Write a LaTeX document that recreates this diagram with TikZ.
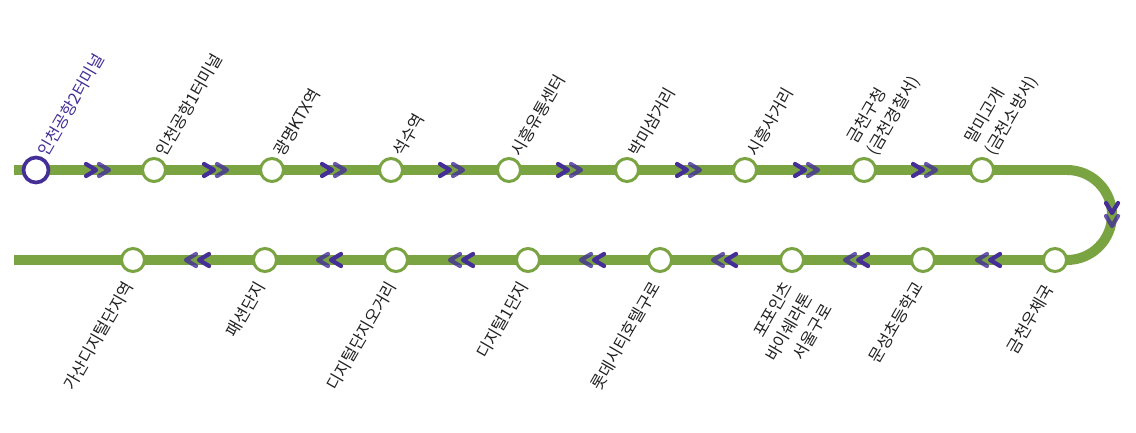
\documentclass[tikz,border=0pt]{standalone}
\usepackage{fontspec}
\setmainfont{Noto Sans CJK KR}
\usetikzlibrary{backgrounds}

\definecolor{linegreen}{HTML}{7AA342}
\definecolor{arrowpurple}{HTML}{452F97}
\definecolor{labelgray}{HTML}{222222}

\tikzset{
trackline/.style={draw=linegreen,line width=7.1pt},
stopnode/.style={circle,draw=linegreen,fill=white,line width=2.1pt,minimum size=0.575cm,inner sep=0,outer sep=0},
firstnode/.style={stopnode,draw=arrowpurple,line width=2.6pt,minimum size=0.625cm},
toplabel/.style={anchor=west,rotate=60,inner sep=0,align=left,font=\fontsize{11.7}{16.2}\selectfont,text=labelgray},
bottomlabel/.style={anchor=east,rotate=60,inner sep=0,align=right,font=\fontsize{11.7}{16.2}\selectfont,text=labelgray},
chevron/.style={draw=arrowpurple,line width=3pt,line join=round,line cap=round},
chevrons/.pic={
\draw[chevron] (2,-6) -- (12,0) -- (2,6);
\draw[chevron,opacity=0.8] (15,-6) -- (25,0) -- (15,6);
}
}

\begin{document}
\begin{tikzpicture}[x=0.025cm,y=-0.025cm]

\useasboundingbox (0,0) rectangle (1136,433);

% Upper stops
\node[firstnode] (u1) at (36,170) {};
\foreach \n/\x in {2/154,3/272,4/391,5/509,6/627,7/745,8/864,9/982}
{
\node[stopnode] (u\n) at (\x,170) {};
}

% Lower stops
\foreach \n/\x in {1/133,2/265,3/396,4/528,5/660,6/792,7/923,8/1055}
{
\node[stopnode] (d\n) at (\x,260) {};
}

\coordinate (linestart) at (14,170);
\coordinate (lineend) at (14,260);
\coordinate (bendtop) at (1067,170);
\coordinate (bendbottom) at (1067,260);

% Track
\begin{scope}[on background layer]
\draw[trackline] (linestart) -- (u1);
\foreach \a/\b in {1/2,2/3,3/4,4/5,5/6,6/7,7/8,8/9}
{
\draw[trackline] (u\a) -- (u\b);
}
\draw[trackline] (u9) -- (bendtop) arc (90:-90:0.025cm*45) -- (d8);
\foreach \a/\b in {8/7,7/6,6/5,5/4,4/3,3/2,2/1}
{
\draw[trackline] (d\a) -- (d\b);
}
\draw[trackline] (d1) -- (lineend);
\end{scope}

% Direction marks
\foreach \x in {84,202,320,438,556,675,793,911}
{
\pic at (\x,170) {chevrons};
}
\pic[rotate=-90] at (1112,201) {chevrons};
\foreach \x in {1002,870,738,606,475,343,211}
{
\pic[rotate=180] at (\x,260) {chevrons};
}

% Upper labels
\node[toplabel,text=arrowpurple] (t1) at (42,155) {인천공항2터미널};
\foreach \n/\x/\txt in {
2/160/인천공항1터미널,
3/278/광명KTX역,
4/397/석수역,
5/515/시흥유통센터,
6/633/박미삼거리,
7/751/시흥사거리
}
{
\node[toplabel] (t\n) at (\x,155) {\txt};
}
\node[toplabel] (t8) at (862,148) {금천구청\\(금천경찰서)};
\node[toplabel] (t9) at (980,148) {말미고개\\(금천소방서)};

% Lower labels
\foreach \n/\x/\txt in {
1/129/가산디지털단지역,
2/261/패션단지,
3/392/디지털단지오거리,
4/524/디지털1단지,
5/656/롯데시티호텔구로,
7/919/문성초등학교,
8/1051/금천우체국
}
{
\node[bottomlabel] (b\n) at (\x,283) {\txt};
}
\node[bottomlabel] (b6) at (808,294) {포포인츠\\바이쉐라톤\\서울구로};

\end{tikzpicture}
\end{document}
